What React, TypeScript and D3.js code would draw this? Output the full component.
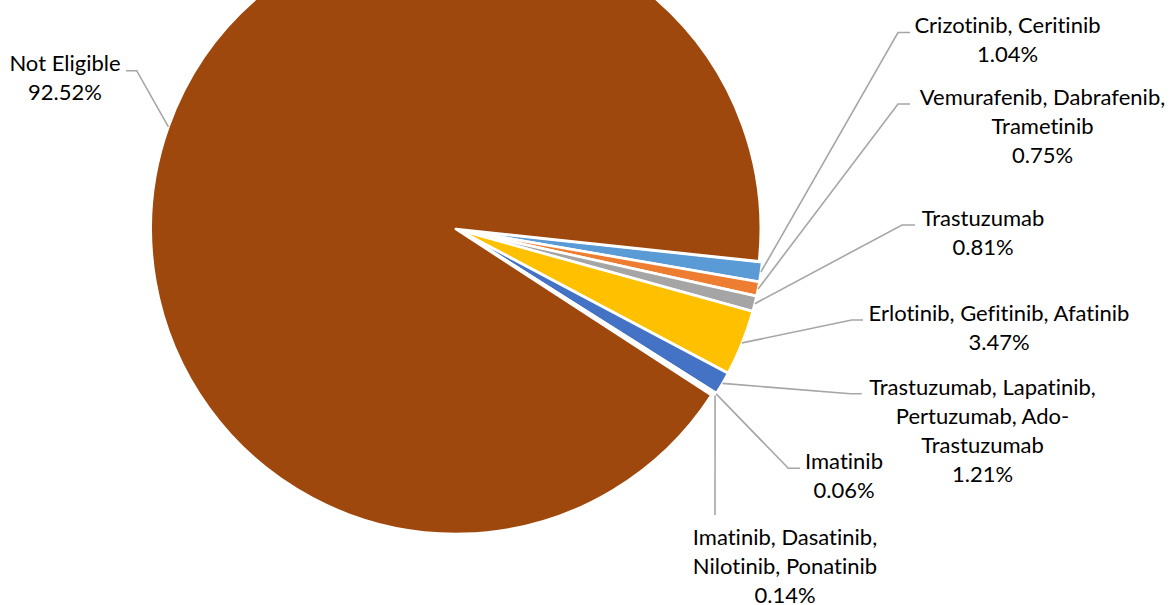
import React from "react";
import * as d3 from "d3";

// Share of patients by eligible targeted therapy (%)
const categories = [
  "Crizotinib, Ceritinib",
  "Vemurafenib, Dabrafenib, Trametinib",
  "Trastuzumab",
  "Erlotinib, Gefitinib, Afatinib",
  "Trastuzumab, Lapatinib, Pertuzumab, Ado-Trastuzumab",
  "Imatinib",
  "Imatinib, Dasatinib, Nilotinib, Ponatinib",
  "Not Eligible",
];
const shares = [1.04, 0.75, 0.81, 3.47, 1.21, 0.06, 0.14, 92.52];
const colors = ["#5B9BD5", "#ED7D31", "#A5A5A5", "#FFC000", "#4472C4", "#70AD47", "#255E91", "#9E480E"];

// Category names as wrapped in the data labels
const labelLines = [
  ["Crizotinib, Ceritinib"],
  ["Vemurafenib, Dabrafenib,", "Trametinib"],
  ["Trastuzumab"],
  ["Erlotinib, Gefitinib, Afatinib"],
  ["Trastuzumab, Lapatinib,", "Pertuzumab, Ado-", "Trastuzumab"],
  ["Imatinib"],
  ["Imatinib, Dasatinib,", "Nilotinib, Ponatinib"],
  ["Not Eligible"],
];

// Data label placement: text centre, first baseline, leader elbow and leader end
const labelLayout: { x: number; y: number; elbow: [number, number]; end: [number, number] | null }[] = [
  { x: 1007.5, y: 33.3, elbow: [898, 32.5], end: [910, 32.5] },
  { x: 1042.5, y: 104.8, elbow: [898, 104], end: [910, 104] },
  { x: 983, y: 226, elbow: [902, 225], end: [915, 225] },
  { x: 999, y: 320.7, elbow: [851.7, 320], end: [863, 320] },
  { x: 982.5, y: 395, elbow: [850.5, 393.8], end: [861.7, 393.8] },
  { x: 844, y: 469.3, elbow: [788.3, 468.3], end: [800, 468.3] },
  { x: 785, y: 544.5, elbow: [715, 515], end: null },
  { x: 65, y: 70.7, elbow: [136.7, 70.7], end: [126, 70.7] },
];

const W = 1172;
const H = 605;
const CX = 457.3;
const CY = 229.5;
const R = 305;
const EXPLODE = 1.6;
const LINE_H = 29;
const FONT = "Lato, 'Open Sans', sans-serif";
const FONT_SIZE = 22;

const deg = Math.PI / 180;

export default function App() {
  const data = categories.map((c, i) => ({ name: c, value: shares[i], color: colors[i], i }));

  const pie = d3
    .pie<(typeof data)[number]>()
    .sort(null)
    .value((d) => d.value)
    .startAngle(96.1 * deg)
    .endAngle(96.1 * deg + 2 * Math.PI);

  const arcs = pie(data);
  const arcGen = d3.arc<d3.PieArcDatum<(typeof data)[number]>>().innerRadius(0).outerRadius(R);

  const fmt = d3.format(".2f");

  return (
    <svg
      width={W}
      height={H}
      style={{
        position: "absolute",
        left: 0,
        top: 0,
        background: "#fff",
        fontVariantLigatures: "none",
        fontFeatureSettings: '"liga" 0, "clig" 0',
      }}
      fontFamily={FONT}
      fontSize={FONT_SIZE}
    >
      <g transform={`translate(${CX},${CY})`}>
        {arcs.map((a) => {
          const mid = (a.startAngle + a.endAngle) / 2;
          const ox = Math.sin(mid) * EXPLODE;
          const oy = -Math.cos(mid) * EXPLODE;
          return (
            <path
              key={a.data.name}
              d={arcGen(a) || ""}
              transform={`translate(${ox},${oy})`}
              fill={a.data.color}
              stroke="#fff"
              strokeWidth={2.6}
              strokeLinejoin="round"
            />
          );
        })}
      </g>
      {arcs.map((a, i) => {
        const mid = (a.startAngle + a.endAngle) / 2;
        const px = CX + Math.sin(mid) * (R + EXPLODE);
        const py = CY - Math.cos(mid) * (R + EXPLODE);
        const L = labelLayout[i];
        const pts: [number, number][] = [[px, py], L.elbow];
        if (L.end) pts.push(L.end);
        const line = d3.line()(pts) || "";
        return <path key={"l" + i} d={line} fill="none" stroke="#A6A6A6" strokeWidth={1.6} />;
      })}
      {arcs.map((a, i) => {
        const L = labelLayout[i];
        const lines = [...labelLines[i], `${fmt(a.data.value)}%`];
        return (
          <text key={"t" + i} textAnchor="middle" fill="#000">
            {lines.map((s, k) => (
              <tspan key={k} x={L.x} y={L.y + k * LINE_H}>
                {s}
              </tspan>
            ))}
          </text>
        );
      })}
    </svg>
  );
}
